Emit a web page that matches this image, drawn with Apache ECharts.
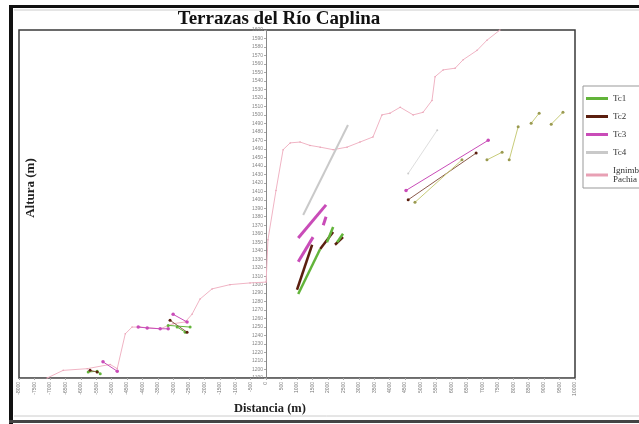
<!DOCTYPE html>
<html>
<head>
<meta charset="utf-8">
<script src="https://cdn.jsdelivr.net/npm/echarts@6/dist/echarts.min.js"></script>
<style>html,body{margin:0;padding:0;background:#fff}#c{width:639px;height:424px}</style>
</head>
<body>
<div id="c"></div>
<script>
// ---- data (distance m, altitude m) ----
const xMin = -8000, xMax = 10000, xStep = 500;
const yMin = 1190, yMax = 1600, yStep = 10;

const pachiaProfile = [[-7090,1190],[-6570,1199],[-5790,1201],[-5050,1206],[-4820,1201],[-4560,1242],[-4340,1250],[-4080,1250],[-3430,1248],[-3010,1254],[-2620,1256],[-2400,1265],[-2140,1283],[-1750,1295],[-1170,1300],[-520,1302],[0,1303],
  [60,1353],[320,1411],[550,1459],[780,1467],[1100,1468],[1420,1464],[1750,1462],[2170,1459],[2620,1462],[3040,1468],[3460,1474],[3750,1500],[4010,1502],[4340,1509],[4760,1500],[5080,1503],[5370,1517],[5470,1545],[5730,1553],[6120,1555],[6380,1565],[6830,1576],[7150,1588],[7570,1600]];

const tc1Thick = [[[1040,1289],[1750,1342]], [[1970,1350],[2170,1368]], [[2300,1350],[2490,1360]]];
const tc2Thick = [[[1000,1294],[1490,1347]], [[1750,1342],[2170,1362]], [[2230,1347],[2490,1356]]];
const tc3Thick = [[[1040,1355],[1940,1394]], [[1040,1327],[1520,1356]], [[1850,1370],[1940,1380]]];
const tc4Thick = [[[1200,1382],[2650,1488]]];

const tc1Thin = [[[-5760,1197],[-5470,1198],[-5370,1195]], [[-3170,1252],[-2460,1250]], [[-2880,1250],[-2620,1244]]];
const tc2Thin = [[[-5700,1199],[-5470,1197]], [[-3110,1258],[-2560,1244]], [[4600,1400],[6800,1455]]];
const tc3Thin = [[[-5280,1209],[-4820,1198]], [[-4140,1250],[-3850,1249],[-3430,1248],[-3170,1248]], [[-3010,1265],[-2560,1256]], [[4530,1411],[7190,1470]]];
const tc1Upper = [[[4820,1397],[6340,1447]], [[7150,1447],[7640,1456]], [[7870,1447],[8160,1486]], [[8580,1490],[8840,1502]], [[9230,1489],[9610,1503]]];
const tc4Thin = [[[4600,1431],[5540,1482]]];

const names = ['Tc1','Tc2','Tc3','Tc4','Ignimb\nPachia'];
const colors = {Tc1:'#62b43a', Tc2:'#5b1f0f', Tc3:'#c94cb8', Tc4:'#c9c9c9', pink:'#f0b4c4', olive:'#c8cc7a'};

function segs(name, list, color, width, sym, symColor, z) {
  return list.map(pts => ({
    type:'line', name:name, data:pts, z:z||3,
    lineStyle:{color:color, width:width},
    itemStyle:{color:symColor||color},
    symbol: sym ? 'circle' : 'none', symbolSize: sym||0, showSymbol: !!sym,
    silent:true, animation:false
  }));
}

const series = [].concat(
  [{type:'line', name:names[4], data:pachiaProfile, z:2, lineStyle:{color:colors.pink, width:1},
    itemStyle:{color:'#e8a0b4'}, symbol:'circle', symbolSize:1.5, silent:true, animation:false}],
  segs('Tc4', tc4Thick, colors.Tc4, 2),
  segs('Tc4 ', tc4Thin, '#dedede', 1, 2, '#cccccc'),
  segs('Tc3', tc3Thick, colors.Tc3, 3),
  segs('Tc2', tc2Thick, colors.Tc2, 2.5),
  segs('Tc1', tc1Thick, colors.Tc1, 2.5),
  segs('Tc1 ', tc1Thin, colors.Tc1, 1, 3),
  segs('Tc2 ', tc2Thin, '#8a5a4a', 1, 3, colors.Tc2),
  segs('Tc3 ', tc3Thin, colors.Tc3, 1, 3.5),
  segs('Tc1u', tc1Upper, colors.olive, 1, 3, '#9a9a50')
);

const gridLeft = 19, gridRight = 64, plotW = 639 - gridLeft - gridRight;
const zeroOffset = -Math.round((0 - xMin) / (xMax - xMin) * plotW);

const chart = echarts.init(document.getElementById('c'), null, {renderer:'canvas'});
chart.setOption({
  animation:false,
  backgroundColor:'#ffffff',
  grid:{left:gridLeft, right:gridRight, top:30, bottom:46, show:true, borderColor:'#3a3a3a', borderWidth:1.5, backgroundColor:'#fff'},
  xAxis:{type:'value', min:xMin, max:xMax, interval:xStep,
    axisLine:{onZero:false, lineStyle:{color:'#777'}},
    axisTick:{show:true, length:2, lineStyle:{color:'#aaa'}},
    axisLabel:{rotate:90, fontSize:5, color:'#777', margin:4, fontFamily:'Liberation Sans', formatter:v=>String(v)},
    splitLine:{show:false}},
  yAxis:{type:'value', min:yMin, max:yMax, interval:yStep, position:'left', offset:zeroOffset,
    axisLine:{show:true, onZero:false, lineStyle:{color:'#888', width:1}},
    axisTick:{show:true, length:2, lineStyle:{color:'#aaa'}},
    axisLabel:{fontSize:5, color:'#888', margin:3, fontFamily:'Liberation Sans', formatter:v=>String(v)},
    splitLine:{show:false}},
  legend:{data:names.map(n=>({name:n, icon:'rect'})), orient:'vertical', left:583, top:86,
    itemWidth:22, itemHeight:3, itemGap:9, padding:[8,12,4,3],
    borderColor:'#999', borderWidth:1, backgroundColor:'#fff',
    textStyle:{fontFamily:'Liberation Serif', fontSize:9, color:'#333', lineHeight:9},
    selectedMode:false},
  graphic:[
    {type:'rect', shape:{x:9, y:5, width:630, height:3}, style:{fill:'#111'}, z:10, silent:true},
    {type:'rect', shape:{x:9, y:5, width:4, height:419}, style:{fill:'#111'}, z:10, silent:true},
    {type:'rect', shape:{x:9, y:420, width:630, height:3}, style:{fill:'#444'}, z:10, silent:true},
    {type:'line', shape:{x1:14, y1:10, x2:639, y2:10}, style:{stroke:'#ccc', lineWidth:1}, silent:true},
    {type:'line', shape:{x1:14, y1:416, x2:639, y2:416}, style:{stroke:'#ccc', lineWidth:1}, silent:true},
    {type:'text', x:279, y:19,
      style:{text:'Terrazas del Río Caplina', font:'bold 19px "Liberation Serif"', fill:'#111', textAlign:'center', textVerticalAlign:'middle'}, silent:true},
    {type:'text', x:31, y:188, rotation:Math.PI/2,
      style:{text:'Altura (m)', font:'bold 13px "Liberation Serif"', fill:'#222', textAlign:'center', textVerticalAlign:'middle'}, silent:true},
    {type:'text', x:270, y:409,
      style:{text:'Distancia (m)', font:'bold 12.5px "Liberation Serif"', fill:'#222', textAlign:'center', textVerticalAlign:'middle'}, silent:true}
  ],
  series: series
});
</script>
</body>
</html>
